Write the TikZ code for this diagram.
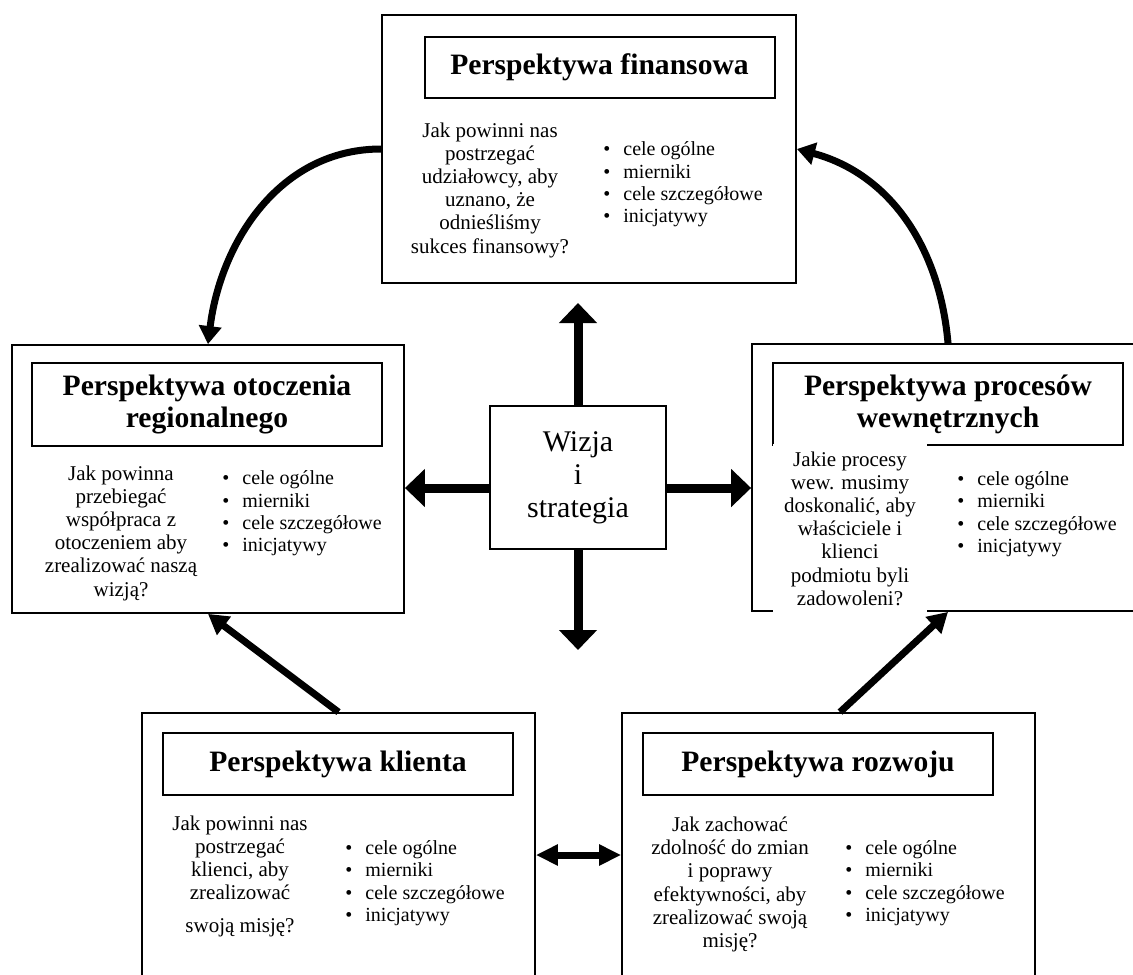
\documentclass[tikz,border=0pt]{standalone}
\usepackage{fontspec}
\setmainfont{Liberation Serif}
\usetikzlibrary{arrows.meta}
\newcommand{\headfont}{\fontsize{14.8}{16}\selectfont\bfseries}
\newcommand{\bodyfont}{\fontsize{10.5}{11.6}\selectfont}
\newcommand{\listfont}{\fontsize{10}{11.2}\selectfont}
\newcommand{\bulletlist}{\textbullet\hspace{6.5pt}cele ogólne\\
	\textbullet\hspace{6.5pt}mierniki\\
	\textbullet\hspace{6.5pt}cele szczegółowe\\
	\textbullet\hspace{6.5pt}inicjatywy}

\begin{document}
\begin{tikzpicture}[x=0.5pt,y=0.5pt,
	outerbox/.style={draw,line width=0.9pt,inner sep=0pt},
	titlebox/.style={draw,line width=1pt,minimum width=175pt,align=center,font=\headfont,inner sep=0pt},
	qtext/.style={align=center,font=\bodyfont,inner sep=0pt},
	plist/.style={align=left,font=\listfont,anchor=west,inner sep=0pt},
	bigarrow/.style={line width=4.5pt,-{Triangle[length=10pt,width=18.5pt]}},
	curvearrow/.style={line width=3.5pt,-{Triangle[length=9pt,width=11pt]}},
	diagarrow/.style={line width=3.5pt,-{Triangle[length=10pt,width=11pt]}},
	dblarrow/.style={line width=3.5pt,{Triangle[length=11pt,width=10pt]}-{Triangle[length=11pt,width=10pt]}}]

		\useasboundingbox (0,0) rectangle (1133,-974);
		\clip (0,0) rectangle (1133,-974);

		%% Frames of the five perspectives
		\node[outerbox,minimum width=207pt,minimum height=134pt] at (589,-149)(fin){};
		\node[outerbox,minimum width=196pt,minimum height=134pt] at (208,-479)(otocz){};
		\node[outerbox,minimum width=196pt,minimum height=133.5pt] at (948,-477.5)(proc){};
		\node[outerbox,minimum width=196.5pt,minimum height=134pt] at (338.5,-847)(klient){};
		\node[outerbox,minimum width=206.5pt,minimum height=134pt] at (828.5,-847)(rozwoj){};

		%% Titles
		\node[titlebox,minimum height=30.5pt] at (599.5,-67.5)(finT){Perspektywa finansowa};
		\node[titlebox,minimum height=41.5pt] at (207,-404.5)(otoczT){Perspektywa otoczenia\\regionalnego};
		\node[titlebox,minimum height=41pt] at (948,-404)(procT){Perspektywa procesów\\wewnętrznych};
		\node[titlebox,minimum height=31pt] at (338,-764)(klientT){Perspektywa klienta};
		\node[titlebox,minimum height=31pt] at (818,-764)(rozwojT){Perspektywa rozwoju};

		%% Questions
		\node[qtext] at (490,-190)(finQ){Jak powinni nas\\postrzegać\\udziałowcy, aby\\uznano, że\\odnieśliśmy\\sukces finansowy?};
		\node[qtext] at (121,-533)(otoczQ){Jak powinna\\przebiegać\\współpraca z\\otoczeniem aby\\zrealizować naszą\\wizją?};
		\node[qtext,fill=white,minimum width=77pt,minimum height=84.5pt] at (850,-528.5)(procQ){Jakie procesy\\wew. musimy\\doskonalić, aby\\właściciele i\\klienci\\podmiotu byli\\zadowoleni?};
		\node[qtext] at (240,-876.5)(klientQ){Jak powinni nas\\postrzegać\\klienci, aby\\zrealizować\\[5pt]swoją misję?};
		\node[qtext] at (730,-884.5)(rozwojQ){Jak zachować\\zdolność do zmian\\i poprawy\\efektywności, aby\\zrealizować swoją\\misję?};

		%% Lists
		\node[plist] at (603,-184.5)(finL){\bulletlist};
		\node[plist] at (222,-513.5)(otoczL){\bulletlist};
		\node[plist] at (957,-514)(procL){\bulletlist};
		\node[plist] at (345,-883)(klientL){\bulletlist};
		\node[plist] at (845,-883)(rozwojL){\bulletlist};

		%% Centre
		\node[draw,line width=1pt,minimum width=88pt,minimum height=71.5pt,align=center,font=\fontsize{15}{16.5}\selectfont] at (578,-477.5)(wizja){Wizja\\i\\strategia};

		\coordinate (up) at (578,-303);
		\coordinate (down) at (578,-650);
		\coordinate (midy) at (0,-488);
		\coordinate (pairy) at (0,-855);

		\draw[bigarrow] (wizja.north) -- (up);
		\draw[bigarrow] (wizja.south) -- (down);
		\draw[bigarrow] (wizja.west |- midy) -- (otocz.east |- midy);
		\draw[bigarrow] (wizja.east |- midy) -- (proc.west |- midy);

		%% Links between perspectives
		\draw[curvearrow] (fin.west) to[out=180,in=83] (otocz.north);
		\draw[curvearrow] (proc.north) to[out=95,in=-15] (fin.east);
		\draw[diagarrow] (klient.north) -- (otocz.south);
		\draw[diagarrow] ([xshift=5.75pt]rozwoj.north) -- (proc.south);
		\draw[dblarrow] (klient.east |- pairy) -- (rozwoj.west |- pairy);
\end{tikzpicture}
\end{document}
